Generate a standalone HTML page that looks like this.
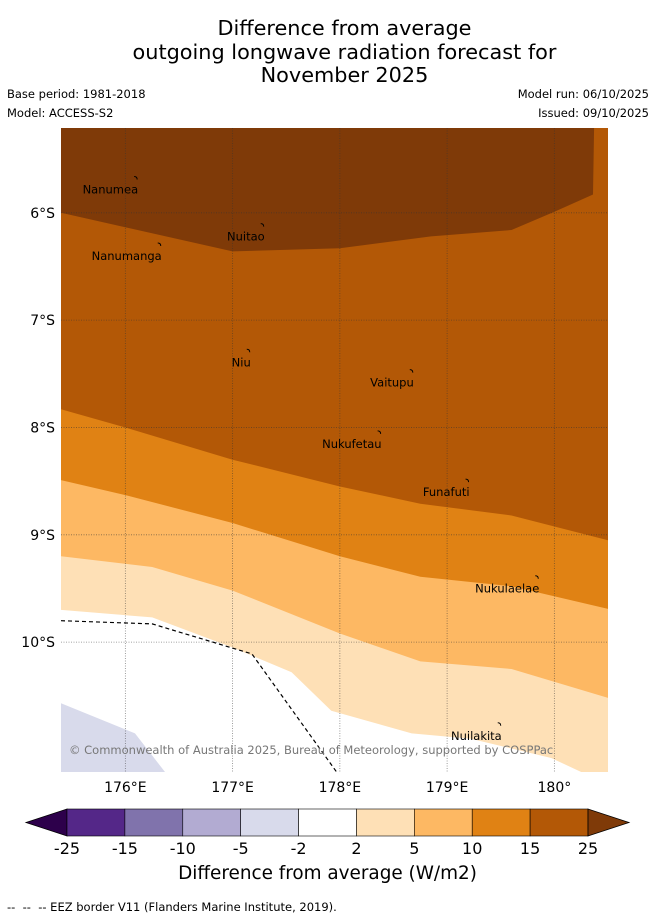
<!DOCTYPE html>
<html><head><meta charset="utf-8">
<style>
body{margin:0;background:#fff;font-family:"DejaVu Sans","Liberation Sans",sans-serif;}
#wrap{position:relative;width:655px;height:919px;overflow:hidden;}
.t{position:absolute;color:#000;white-space:nowrap;}
</style></head>
<body>
<div id="wrap">
<div class="t" style="left:0;width:689px;top:17px;text-align:center;font-size:20.8px;line-height:23.5px;">Difference from average<br>outgoing longwave radiation forecast for<br>November 2025</div>
<div class="t" style="left:7px;top:87px;font-size:11.5px;">Base period: 1981-2018</div>
<div class="t" style="left:7px;top:106px;font-size:11.5px;">Model: ACCESS-S2</div>
<div class="t" style="right:6px;top:87px;font-size:11.5px;">Model run: 06/10/2025</div>
<div class="t" style="right:6px;top:106px;font-size:11.5px;">Issued: 09/10/2025</div>
<svg id="svg" width="655" height="919" style="position:absolute;left:0;top:0"></svg>
<div class="t" style="left:0;width:655px;top:863px;text-align:center;font-size:18.4px;">Difference from average (W/m2)</div>
<div class="t" style="left:7px;top:900px;font-size:11.5px;">-- &nbsp;-- &nbsp;-- EEZ border V11 (Flanders Marine Institute, 2019).</div>
</div>
<script>
// data
const lonTicks=[176,177,178,179,180];
const latTicks=[6,7,8,9,10];
const bandLevels=[-25,-15,-10,-5,-2,2,5,10,15,25];
const bandColors=["#2d004b","#542788","#8073ac","#b2abd2","#d8daeb","#ffffff","#fee0b6","#fdb863","#e08214","#b35806","#7f3a08"];
// contour boundaries as [lon, lat(°S)] points
const c25=[[175.4,6.0],[177.0,6.36],[178.0,6.33],[178.85,6.22],[179.6,6.16],[180.0,5.99],[180.36,5.83],[180.37,5.2]];
const c15=[[175.4,7.83],[176.0,8.0],[177.0,8.3],[178.0,8.55],[178.75,8.71],[179.6,8.82],[180.5,9.05]];
const c10=[[175.4,8.49],[176.0,8.63],[177.0,8.89],[178.0,9.2],[178.75,9.39],[179.6,9.48],[180.5,9.69]];
const c5=[[175.4,9.2],[176.25,9.3],[177.0,9.52],[178.0,9.92],[178.75,10.18],[179.6,10.25],[180.5,10.52]];
const c2=[[175.4,9.7],[176.25,9.77],[177.0,10.05],[177.55,10.28],[177.92,10.64],[178.67,10.85],[179.22,10.9],[179.97,11.08],[180.25,11.21]];
const cm2=[[175.4,10.57],[176.09,10.85],[176.37,11.21]];
const eez=[[175.4,9.8],[176.25,9.83],[177.18,10.11],[177.97,11.21]];
const islands=[["Nanumea",176.11,5.68],["Nuitao",177.29,6.12],["Nanumanga",176.33,6.3],["Niu",177.16,7.29],["Vaitupu",178.68,7.48],["Nukufetau",178.38,8.05],["Funafuti",179.2,8.5],["Nukulaelae",179.85,9.4],["Nuilakita",179.5,10.77]];

const X0=61,X1=608,Y0=128,Y1=772;
const lonMin=175.4,lonMax=180.5,latMin=5.21,latMax=11.21;
const lx=l=>X0+(l-lonMin)/(lonMax-lonMin)*(X1-X0);
const ly=l=>Y0+(l-latMin)/(latMax-latMin)*(Y1-Y0);
const svg=document.getElementById('svg');
const NS="http://www.w3.org/2000/svg";
const FF='DejaVu Sans, Liberation Sans, sans-serif';
function mk(tag,attrs,parent){const e=document.createElementNS(NS,tag);for(const k in attrs)e.setAttribute(k,attrs[k]);(parent||svg).appendChild(e);return e;}
const pts=a=>a.map(p=>lx(p[0]).toFixed(1)+","+ly(p[1]).toFixed(1)).join(" ");
const cp=document.createElementNS(NS,'clipPath');cp.setAttribute('id','mc');
const cr=document.createElementNS(NS,'rect');cr.setAttribute('x',X0);cr.setAttribute('y',Y0);cr.setAttribute('width',X1-X0);cr.setAttribute('height',Y1-Y0);cp.appendChild(cr);svg.appendChild(cp);
const g=mk('g',{'clip-path':'url(#mc)'});


function poly(p,fill,name){const e=mk('polygon',{points:p,fill:fill},g);


return e;}
function topPoly(a,c,n){let s=`${X0-5},${Y0-5} ${X1+5},${Y0-5} ${X1+5},${Y1+5} `;s+=pts(a.slice().reverse());s+=` ${X0-5},${ly(a[0][1])}`;return poly(s,c,n);}
poly(`${X0},${Y0} ${X1},${Y0} ${X1},${Y1} ${X0},${Y1}`,"#ffffff","band-white");
topPoly(c2,"#fee0b6","band-2-5");
topPoly(c5,"#fdb863","band-5-10");
topPoly(c10,"#e08214","band-10-15");
topPoly(c15,"#b35806","band-15-25");
poly(`${X0-5},${Y0-5} ${lx(c25[c25.length-1][0])},${Y0-5} `+pts(c25.slice().reverse())+` ${X0-5},${ly(c25[0][1])}`,"#7f3a08","band-above-25");
poly(pts(cm2)+` ${X0-5},${Y1+5}`,"#d8daeb","band-neg2-neg5");
// gridlines
lonTicks.forEach(l=>{const e=mk('line',{x1:lx(l),x2:lx(l),y1:Y0,y2:Y1,stroke:'#333','stroke-opacity':'0.6','stroke-width':'0.8','stroke-dasharray':'1,1.5'},g);

});
latTicks.forEach(l=>{const e=mk('line',{y1:ly(l),y2:ly(l),x1:X0,x2:X1,stroke:'#333','stroke-opacity':'0.6','stroke-width':'0.8','stroke-dasharray':'1,1.5'},g);

});
// eez
const ez=mk('polyline',{points:pts(eez),fill:'none',stroke:'#000','stroke-width':'1.2','stroke-dasharray':'4,3'},g);


// islands
islands.forEach(d=>{const x=lx(d[1]),y=ly(d[2]);
const m=mk('path',{d:`M${x-3},${y-2} q3,0 3,3`,stroke:'#000',fill:'none','stroke-width':'1'},g);


const t=mk('text',{x:x+1,y:y+15,'text-anchor':'end','font-size':'11.5','font-family':FF},g);t.textContent=d[0];

});
const cpy=mk('text',{x:69,y:754,'font-size':'11.5',fill:'#777','font-family':FF},g);cpy.textContent='© Commonwealth of Australia 2025, Bureau of Meteorology, supported by COSPPac';


// tick labels
lonTicks.forEach(l=>{const t=mk('text',{x:lx(l),y:792,'text-anchor':'middle','font-size':'14','font-family':FF});t.textContent=l===180?'180°':l+'°E';

});
latTicks.forEach(l=>{const t=mk('text',{x:55,y:ly(l)+5,'text-anchor':'end','font-size':'14','font-family':FF});t.textContent=l+'°S';

});
// colorbar
const cb0=67,cb1=588,cy0=809,cy1=836,n=bandLevels.length-1,w=(cb1-cb0)/n;
const lt=mk('polygon',{points:`26,822.5 ${cb0},${cy0} ${cb0},${cy1}`,fill:bandColors[0],stroke:'#000','stroke-width':'0.8'});


for(let i=0;i<n;i++){const r=mk('rect',{x:cb0+i*w,y:cy0,width:w,height:cy1-cy0,fill:bandColors[i+1],stroke:'#000','stroke-width':'0.6'});

}
const rt=mk('polygon',{points:`629,822.5 ${cb1},${cy0} ${cb1},${cy1}`,fill:bandColors[bandColors.length-1],stroke:'#000','stroke-width':'0.8'});


bandLevels.forEach((v,i)=>{const t=mk('text',{x:cb0+i*w,y:854,'text-anchor':'middle','font-size':'16','font-family':FF});t.textContent=v;

});
</script>
</body></html>
